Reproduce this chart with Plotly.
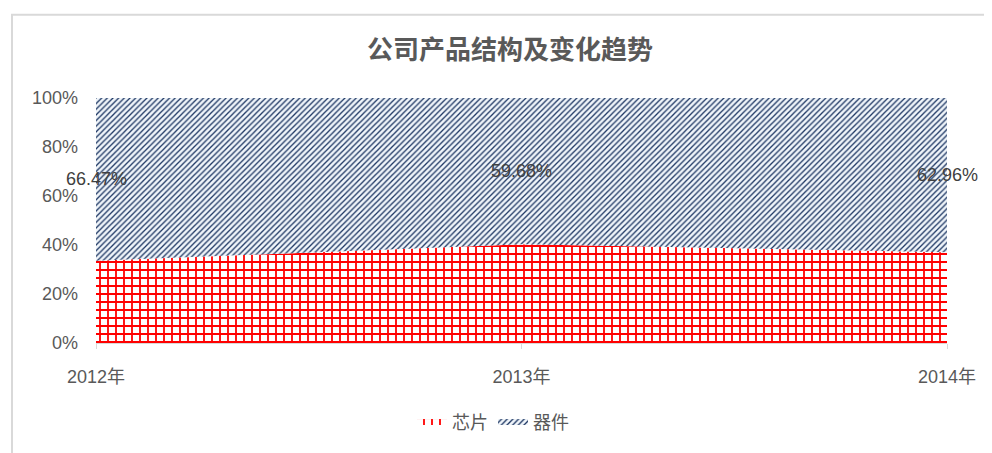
import plotly.graph_objects as go

years = ["2012年", "2013年", "2014年"]
chip = [33.53, 40.32, 37.04]
device = [66.47, 59.68, 62.96]
device_labels = ["66.47%", "59.68%", "62.96%"]
y_ticks = [0, 20, 40, 60, 80, 100]
y_tick_labels = ["0%", "20%", "40%", "60%", "80%", "100%"]

FONT = "Liberation Sans, Noto Sans CJK SC, sans-serif"
GRAY = "#595959"

# page body has an 8px margin: compensate so the plot lands where the reference has it
W, H = 984, 445
L, R, T, B = 88, 45, 90, 108
PW = W - L - R
PH = H - T - B

def px_x(px):
    return (px - 8 - L) / PW

def px_y(py):
    return (H - B - (py - 8)) / PH

fig = go.Figure()
fig.add_trace(go.Scatter(
    x=years, y=chip, name="芯片", stackgroup="one", mode="none",
    fillcolor="white",
    fillpattern=dict(shape="+", fgcolor="#ff0000", bgcolor="white",
                     size=8, solidity=0.4, fillmode="replace"),
))
fig.add_trace(go.Scatter(
    x=years, y=device, name="器件", stackgroup="one", mode="none",
    fillcolor="#eef3f9",
    fillpattern=dict(shape="/", fgcolor="#1f3864", bgcolor="#f0f5fa",
                     size=4, solidity=0.33, fillmode="replace"),
))

for i, (c, d, t) in enumerate(zip(chip, device, device_labels)):
    fig.add_annotation(x=years[i], y=c + d / 2, text=t, showarrow=False,
                       xref="x", yref="y",
                       font=dict(family=FONT, size=18, color="#404040"))

fig.add_shape(type="rect", xref="paper", yref="paper",
              x0=px_x(12), x1=px_x(1010), y0=px_y(470), y1=px_y(14),
              line=dict(color="#d9d9d9", width=2), fillcolor="rgba(0,0,0,0)",
              layer="below")

fig.update_layout(
    width=W, height=H,
    margin=dict(l=L, r=R, t=T, b=B),
    paper_bgcolor="white", plot_bgcolor="white",
    title=dict(text="<b>公司产品结构及变化趋势</b>", x=px_x(510), xref="paper",
               y=1 - (50 - 8) / H, yref="container", xanchor="center", yanchor="middle",
               font=dict(family="Noto Sans CJK SC, sans-serif", size=26, color=GRAY)),
    legend=dict(orientation="h", x=px_x(493), xanchor="center", y=px_y(425), yanchor="middle",
                font=dict(family=FONT, size=18, color=GRAY), traceorder="normal",
                itemwidth=30),
    showlegend=True,
)
fig.update_xaxes(type="category", range=[0, 2], showgrid=False, showline=True,
                 linecolor="#d9d9d9", linewidth=1, ticks="outside", ticklen=5,
                 tickcolor="#d9d9d9", ticklabelstandoff=12,
                 tickfont=dict(family=FONT, size=18, color=GRAY))
fig.update_yaxes(range=[0, 100], tickvals=y_ticks, ticktext=y_tick_labels,
                 showgrid=False, zeroline=False, showline=False, ticks="",
                 ticklabelstandoff=17,
                 tickfont=dict(family=FONT, size=18, color=GRAY))

fig.write_html("out.html")
